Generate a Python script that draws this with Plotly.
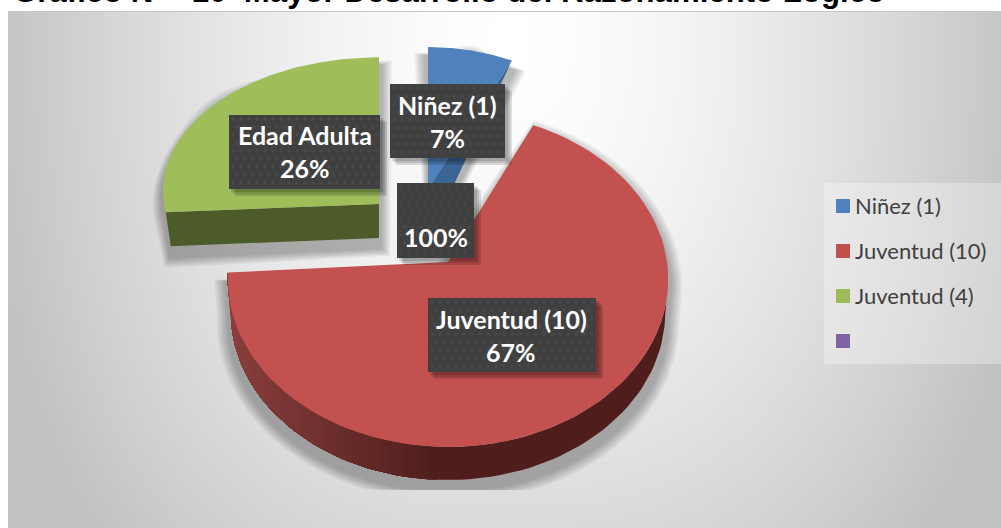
import numpy as np
import plotly.graph_objects as go

# ---- data ----
title_text = "Gráfico N°\u00a0\u00a0\u00a010\u00a0\u00a0Mayor Desarrollo del Razonamiento Lógico"
legend_labels = ["Niñez (1)", "Juventud (10)", "Juventud (4)", ""]
slice_labels = ["Niñez (1)", "Juventud (10)", "Edad Adulta"]
percent_values = [7, 67, 26]
total_label = "100%"

# ---- styles and geometry ----
TOP = ["#4f81bd", "#c25150", "#9fbe5a"]
WALL = ["#3a6595", "#4f1e1c", "#4d5b2a"]
LEGEND_COL = ["#4f81bd", "#c0504d", "#9bbb59", "#8064a2"]
GEOM = [
    dict(ax=428, ay=189, rx=197, A=142, k=0.0),
    dict(ax=448, ay=262, rx=219, A=165.6, k=0.105),
    dict(ax=379, ay=204, rx=215, A=132, k=-0.1),
]
W, H = 1001, 528


def rim(theta, g, dx=0, dy=0, rx=None):
    u, v = np.sin(theta), np.cos(theta)
    d = 1 + g["k"] * v
    return g["ax"] + dx + (rx or g["rx"]) * u / d, g["ay"] + dy - g["A"] * v / d


def poly(x, y, color):
    return go.Scatter(x=list(x), y=list(y), mode="lines", fill="toself", fillcolor=color,
                      line=dict(width=0), hoverinfo="skip", showlegend=False)


def rect(x0, y0, x1, y1, color):
    return poly([x0, x1, x1, x0, x0], [y0, y0, y1, y1, y0], color)


traces = []

# chart area background gradient
step = 16
xs = np.arange(8 + step / 2, W + step, step)
ys = np.arange(12 + step / 2, H + step, step)
X, Y = np.meshgrid(xs, ys)
d = (np.abs((X - 510) / 500) ** 2.5 + np.abs((Y - 40) / 660) ** 2.5) ** (1 / 2.5)
Z = np.maximum(255 - 58 * d ** 1.5, 194)
traces.append(go.Heatmap(x=xs, y=ys, z=Z, zmin=190, zmax=255, zsmooth="best", showscale=False,
                         colorscale=[[0, "rgb(190,190,190)"], [1, "rgb(255,255,255)"]], hoverinfo="skip"))

# slice angles from the percentages
edges = np.radians(np.cumsum([0] + percent_values) * 3.6)


def arc(i, a=None, b=None, n=90):
    return np.linspace(edges[i] if a is None else a, edges[i + 1] if b is None else b, n)


# top faces and silhouettes
faces, sils, walls = [], [], []
for i, g in enumerate(GEOM):
    t = arc(i)
    x, y = rim(t, g)
    fx = np.r_[g["ax"], x, g["ax"]]
    fy = np.r_[g["ay"], y, g["ay"]]
    faces.append((fx, fy))
    if i == 0:
        wx = [g["ax"], x[-1], g["ax"] + 8]
        wy = [g["ay"], y[-1], g["ay"] + 34]
        sils.append((np.r_[fx[:-1], wx[-1]], np.r_[fy[:-1], wy[-1]]))
        walls.append([(wx, wy, WALL[i])])
    elif i == 1:
        ts = np.radians(97)
        tt = arc(i, a=ts)
        bx, by = rim(tt, g, dy=33, rx=216)
        ux, uy = rim(arc(i, b=ts), g)
        sils.append((np.r_[g["ax"], ux, bx, x[-1]], np.r_[g["ay"], uy, by, y[-1]]))
        ax_, ay_ = rim(tt, g)
        # solid dark wall first, lighter gradient bands only towards the left end
        quads = [(np.r_[ax_, bx[::-1]], np.r_[ay_, by[::-1]], WALL[1])]
        n = len(tt) - 1
        for j in range(n):
            f = np.clip((bx[j] - 232) / (440 - 232), 0, 1)
            if f >= 1:
                continue
            c = "rgb(%d,%d,%d)" % (138 + (79 - 138) * f, 63 + (30 - 63) * f, 61 + (28 - 61) * f)
            # each band runs to the far end so that later bands overlap it without seams
            quads.append((np.r_[ax_[j:], bx[j:][::-1]], np.r_[ay_[j:], by[j:][::-1]], c))
        walls.append(quads)
    else:
        wx = [x[0], g["ax"], g["ax"], x[0] + 5]
        wy = [y[0], g["ay"], g["ay"] + 34, y[0] + 34]
        sils.append((np.r_[x, wx[2], wx[3]], np.r_[y, wy[2], wy[3]]))
        walls.append([(wx, wy, WALL[i])])

# soft shadows, offset downwards as in the reference
for sx, sy in sils:
    cx, cy = sx.mean(), sy.mean()
    r = np.hypot(sx - cx, sy - cy)
    for e in [14, 12, 10, 8, 6, 4]:
        px = cx + (sx - cx) * (r + e) / r
        py = cy + 9 + (sy - cy) * (r + e) / r
        traces.append(poly(np.r_[px, px[0]], np.minimum(np.r_[py, py[0]], 490), "rgba(0,0,0,0.05)"))

for i in [0, 2, 1]:
    for qx, qy, c in walls[i]:
        traces.append(poly(list(qx) + [qx[0]], list(qy) + [qy[0]], c))
    traces.append(poly(faces[i][0], faces[i][1], TOP[i]))

# label boxes
BOXES = [(390, 84, 505, 158), (428, 298, 596, 372), (229, 115, 380, 189), (397, 183, 474, 258)]
for x0, y0, x1, y1 in BOXES:
    for e in [7, 5, 3]:
        traces.append(rect(x0 - 1 + e, y0 + e, x1 + e, y1 + e, "rgba(0,0,0,0.13)"))
    traces.append(rect(x0, y0, x1, y1, "#404040"))
    gx, gy = [], []
    for r_, yy in enumerate(np.arange(y0 + 4, y1 - 1, 8)):
        for xx in np.arange(x0 + 4 + (r_ % 2) * 4, x1 - 1, 8):
            gx.append(xx)
            gy.append(yy)
    traces.append(go.Scatter(x=gx, y=gy, mode="markers", hoverinfo="skip", showlegend=False,
                             marker=dict(size=3.5, color="#494949", line=dict(width=0))))

# legend
traces.append(rect(824, 183, 1001, 364, "rgba(255,255,255,0.3)"))
LEG_Y = [206, 251, 296, 341]
traces.append(go.Scatter(x=[843] * 4, y=LEG_Y, mode="markers", hoverinfo="skip", showlegend=False,
                         marker=dict(symbol="square", size=14, color=LEGEND_COL, line=dict(width=0))))

annotations = [dict(x=12, y=10, xref="x", yref="y", xanchor="left", yanchor="bottom", showarrow=False,
                    text="<b>%s</b>" % title_text, borderpad=0,
                    font=dict(family="Liberation Sans", size=31.2, color="black"))]
for lab, yy in zip(legend_labels, LEG_Y):
    if lab:
        annotations.append(dict(x=853, y=yy - 1, xref="x", yref="y", xanchor="left", yanchor="middle", showarrow=False,
                                text=lab, font=dict(family="Lato", size=22, color="#404040")))


def lab_lines(cx, y1, t1, y2, t2):
    for yy, t in ((y1, t1), (y2, t2)):
        if t:
            annotations.append(dict(x=cx, y=yy, xref="x", yref="y", xanchor="center", yanchor="middle",
                                    showarrow=False, text="<b>%s</b>" % t,
                                    font=dict(family="Lato", size=25, color="white")))


pct = ["%d%%" % v for v in percent_values]
lab_lines(447.5, 105, slice_labels[0], 138, pct[0])
lab_lines(511, 319, slice_labels[1], 352, pct[1])
lab_lines(304.5, 135, slice_labels[2], 168, pct[2])
lab_lines(435.5, None, "", 237, total_label)

fig = go.Figure(traces)
fig.update_layout(
    width=W, height=H, margin=dict(l=0, r=0, t=0, b=0), showlegend=False,
    paper_bgcolor="white", plot_bgcolor="white", annotations=annotations,
    xaxis=dict(range=[0, W], visible=False, fixedrange=True),
    yaxis=dict(range=[H, 0], visible=False, fixedrange=True),
    shapes=[dict(type="line", x0=8, x1=W, y0=11.5, y1=11.5, xref="x", yref="y",
                 line=dict(color="#c8c8c8", width=1), layer="above")],
)
fig.write_html("out.html", config=dict(displayModeBar=False),
               post_script="document.body.style.margin='0';document.documentElement.style.overflow='hidden';")
